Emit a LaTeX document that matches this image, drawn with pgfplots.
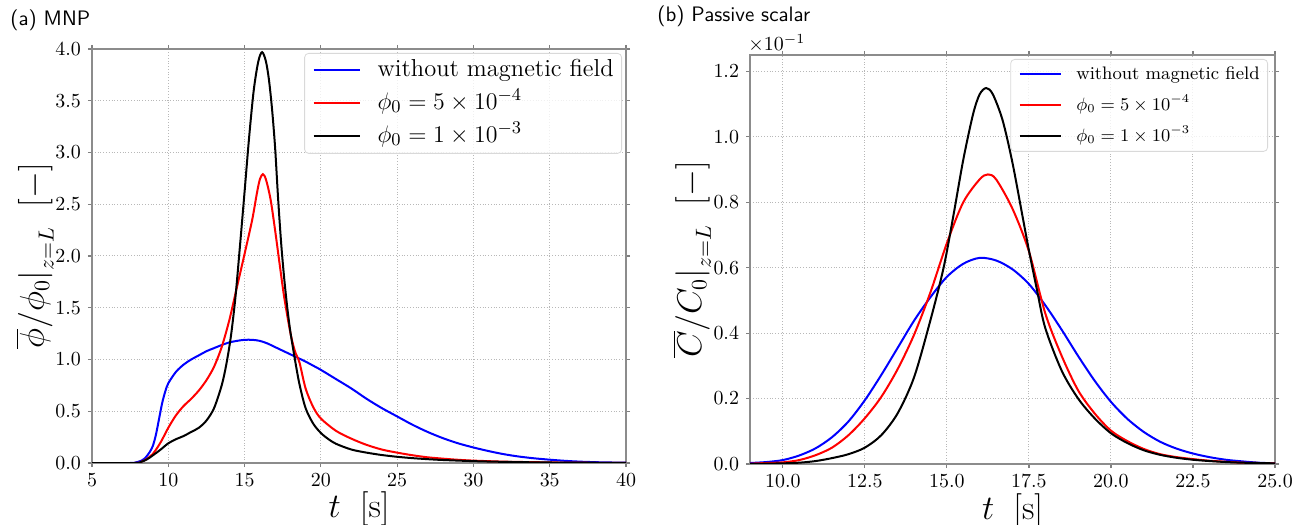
\documentclass[border=0pt]{standalone}
\usepackage{pgfplots}
\pgfplotsset{compat=1.18}

% ---------------- data ----------------
\pgfplotstableread{
t v
5 0
7.5 0
7.8 0.003
8.2 0.02
8.5 0.05
8.8 0.11
9.0 0.17
9.2 0.28
9.4 0.43
9.6 0.58
9.8 0.69
10.0 0.77
10.5 0.88
11 0.95
11.5 1.00
12 1.04
12.5 1.08
13 1.11
13.5 1.14
14 1.165
14.5 1.18
15 1.19
15.5 1.19
16 1.18
16.5 1.155
17 1.12
17.5 1.085
18 1.05
18.5 1.015
19 0.98
19.5 0.94
20 0.90
21 0.81
22 0.72
23 0.62
24 0.53
25 0.45
26 0.37
27 0.30
28 0.24
29 0.19
30 0.15
31 0.115
32 0.085
33 0.062
34 0.045
35 0.032
36 0.021
37 0.013
38 0.008
39 0.005
40 0.003
}\mnpNone
\pgfplotstableread{
t v
5 0
7.8 0
8.2 0.01
8.6 0.04
9.0 0.09
9.5 0.20
10 0.34
10.5 0.46
11 0.55
11.5 0.62
12 0.70
12.5 0.80
13 0.93
13.5 1.12
14 1.38
14.5 1.70
15 2.02
15.5 2.35
15.8 2.60
16.0 2.74
16.2 2.79
16.4 2.74
16.7 2.55
17 2.25
17.3 1.92
17.6 1.60
18 1.26
18.3 1.08
18.6 0.97
19 0.72
19.5 0.54
20 0.43
21 0.31
22 0.235
23 0.175
24 0.13
25 0.10
26 0.075
27 0.055
28 0.042
29 0.031
30 0.023
32 0.013
34 0.008
36 0.004
38 0.002
40 0.001
}\mnpLow
\pgfplotstableread{
t v
5 0
7.8 0
8.2 0.01
8.6 0.035
9.0 0.075
9.5 0.13
10 0.19
10.5 0.23
11 0.26
11.5 0.30
12 0.34
12.5 0.41
13 0.53
13.5 0.75
13.8 0.95
14.1 1.22
14.4 1.60
14.7 2.10
15.0 2.62
15.3 3.15
15.6 3.60
15.9 3.88
16.15 3.97
16.4 3.88
16.6 3.70
16.8 3.42
17.0 3.05
17.2 2.55
17.4 2.12
17.6 1.78
17.8 1.50
18.0 1.27
18.3 1.00
18.6 0.76
19.0 0.53
19.5 0.38
20 0.29
20.5 0.23
21 0.185
22 0.13
23 0.10
24 0.077
25 0.06
26 0.047
27 0.037
28 0.029
30 0.018
32 0.011
35 0.005
40 0.001
}\mnpHigh

\pgfplotstableread{
t v
9 0.003
9.5 0.006
10 0.012
10.5 0.026
11 0.048
11.5 0.082
12 0.13
12.5 0.195
13 0.272
13.5 0.355
14 0.438
14.5 0.51
15 0.572
15.5 0.612
16 0.63
16.5 0.622
17 0.595
17.5 0.55
18 0.485
18.5 0.41
19 0.33
19.5 0.255
20 0.19
20.5 0.138
21 0.098
21.5 0.068
22 0.047
22.5 0.032
23 0.021
23.5 0.013
24 0.008
24.5 0.004
25 0.002
}\psNone
\pgfplotstableread{
t v
9 0.001
9.5 0.003
10 0.005
10.5 0.012
11 0.027
11.5 0.05
12 0.088
12.5 0.14
13.0 0.205
13.5 0.29
14 0.395
14.5 0.525
15 0.675
15.5 0.80
16 0.87
16.25 0.885
16.5 0.87
17 0.78
17.5 0.65
18 0.46
18.5 0.33
19 0.225
19.5 0.155
20 0.102
20.5 0.07
21 0.046
21.5 0.03
22 0.021
22.5 0.015
23 0.01
23.5 0.007
24 0.004
24.5 0.003
25 0.002
}\psLow
\pgfplotstableread{
t v
9 0.0
9.5 0.001
10 0.002
10.5 0.004
11 0.009
11.5 0.018
12 0.03
12.5 0.05
13.0 0.088
13.5 0.155
14 0.265
14.5 0.44
14.9 0.60
15.2 0.76
15.5 0.93
15.8 1.07
16.0 1.13
16.2 1.149
16.4 1.13
16.7 1.05
17.0 0.92
17.3 0.76
17.5 0.653
17.75 0.53
18 0.415
18.5 0.285
19 0.2
19.5 0.14
20 0.094
20.5 0.064
21 0.042
21.5 0.028
22 0.019
22.5 0.013
23 0.009
23.5 0.006
24 0.004
24.5 0.003
25 0.002
}\psHigh

\pgfplotsset{
  panel/.style={
    scale only axis,
    anchor=south west,
    axis line style={black!45, line width=0.8bp},
    tick align=outside,
    major tick length=2bp,
    tick style={black!50, line width=0.6bp},
    grid=major,
    major grid style={densely dotted, black!28, line width=0.5bp},
    tick label style={font=\fontsize{10.3}{12}\selectfont},
    label style={font=\fontsize{16}{18}\selectfont},
    legend cell align=left,
    legend image code/.code={\draw[#1, line width=1bp] (0bp,0bp) -- (\pgfkeysvalueof{/pgfplots/legline}bp,0bp);},
    every axis plot/.append style={line width=1bp, smooth},
  },
  /pgfplots/legline/.initial=23,
}

\begin{document}
\begin{tikzpicture}

% (a) magnetic nanoparticles
\begin{axis}[panel,
  at={(46bp,31bp)}, width=267bp, height=207bp,
  xmin=5, xmax=40, ymin=0, ymax=4,
  xtick={5,10,...,40},
  ytick={0,0.5,...,4},
  yticklabel style={/pgf/number format/.cd, fixed, fixed zerofill, precision=1},
  xlabel={$t\ \ [\mathrm{s}]$},
  ylabel={$\overline{\phi}/\phi_0\big|_{z=L}\ \ [-]$},
  xlabel style={at={(axis description cs:0.5,-0.112)}, anchor=center},
  ylabel style={at={(axis description cs:-0.107,0.5)}, anchor=center},
  legline=23,
  legend style={at={(1,1)}, anchor=north east, xshift=-2bp, yshift=-2bp,
    draw=black!15, rounded corners=2bp, fill=white, fill opacity=0.8, text opacity=1,
    font=\fontsize{12.3}{14}\selectfont, inner xsep=4bp, inner ysep=3bp,
    row sep=5.5bp,
    nodes={inner xsep=0bp, inner ysep=0bp, text height=8.5bp, text depth=2.5bp},
    /tikz/every odd column/.style={column sep=8.5bp}},
]
\addplot[blue] table[x=t, y=v] {\mnpNone};
\addlegendentry{without magnetic field}
\addplot[red] table[x=t, y=v] {\mnpLow};
\addlegendentry{$\phi_0=5\times10^{-4}$}
\addplot[black] table[x=t, y=v] {\mnpHigh};
\addlegendentry{$\phi_0=1\times10^{-3}$}
\end{axis}

% (b) passive scalar, values in units of 1e-1
\begin{axis}[panel,
  at={(375bp,30.5bp)}, width=262.5bp, height=204.5bp,
  xmin=9, xmax=25, ymin=0, ymax=1.25,
  xtick={10,12.5,...,25},
  ytick={0,0.2,...,1.2},
  xticklabel style={/pgf/number format/.cd, fixed, fixed zerofill, precision=1},
  yticklabel style={/pgf/number format/.cd, fixed, fixed zerofill, precision=1},
  xlabel={$t\ \ [\mathrm{s}]$},
  ylabel={$\overline{C}/C_0\big|_{z=L}\ \ [-]$},
  xlabel style={at={(axis description cs:0.5,-0.115)}, anchor=center},
  ylabel style={at={(axis description cs:-0.11,0.5)}, anchor=center},
  legline=20.5,
  legend style={at={(1,1)}, anchor=north east, xshift=-3.5bp, yshift=-2bp,
    draw=black!15, rounded corners=2bp, fill=white, fill opacity=0.8, text opacity=1,
    font=\fontsize{9.1}{11}\selectfont, inner xsep=4bp, inner ysep=3bp,
    row sep=6.5bp,
    nodes={inner xsep=0bp, inner ysep=0bp, text height=7bp, text depth=2bp},
    /tikz/every odd column/.style={column sep=7.3bp}},
]
\addplot[blue] table[x=t, y=v] {\psNone};
\addlegendentry{without magnetic field}
\addplot[red] table[x=t, y=v] {\psLow};
\addlegendentry{$\phi_0=5\times10^{-4}$}
\addplot[black] table[x=t, y=v] {\psHigh};
\addlegendentry{$\phi_0=1\times10^{-3}$}
\end{axis}

% panel titles and scale factor
\node[anchor=base west, inner sep=0pt, font=\sffamily\fontsize{10.5}{12}\selectfont] at (5bp,249.5bp) {(a) MNP};
\node[anchor=base west, inner sep=0pt, font=\sffamily\fontsize{10.5}{12}\selectfont] at (328.5bp,251.5bp) {(b) Passive scalar};
\node[anchor=base west, inner sep=0pt, font=\fontsize{10.4}{12}\selectfont] at (374bp,237bp) {$\times10^{-1}$};

\pgfresetboundingbox
\path (0,0) rectangle (647.5bp,262.5bp);
\end{tikzpicture}
\end{document}
